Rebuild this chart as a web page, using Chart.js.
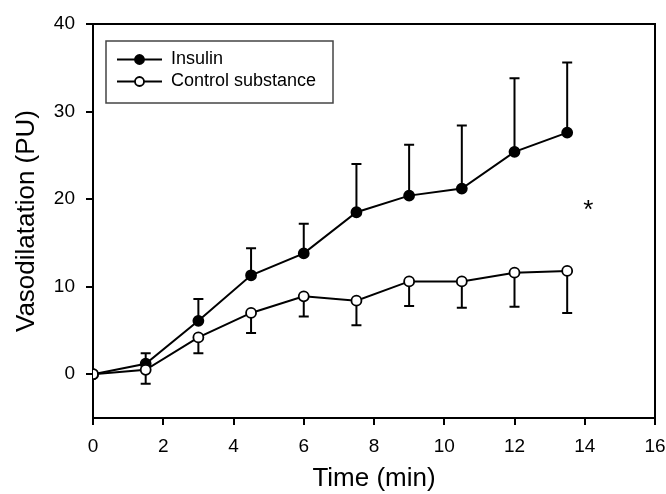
<!DOCTYPE html>
<html>
<head>
<meta charset="utf-8">
<script src="https://cdn.jsdelivr.net/npm/chart.js@4.4.0/dist/chart.umd.min.js"></script>
<style>
  body { margin: 0; background: #fff; }
  canvas { display: block; }
</style>
</head>
<body>
<canvas id="myChart" width="666" height="494"></canvas>
<script>
// time points (min)
const times = [0, 1.5, 3, 4.5, 6, 7.5, 9, 10.5, 12, 13.5];
// mean vasodilatation (PU)
const insulin = [0, 1.2, 6.1, 11.3, 13.8, 18.5, 20.4, 21.2, 25.4, 27.6];
const control = [0, 0.5, 4.2, 7.0, 8.9, 8.4, 10.6, 10.6, 11.6, 11.8];
// error bars: insulin drawn upward, control downward
const insulinErr = [0, 1.2, 2.5, 3.1, 3.4, 5.5, 5.8, 7.2, 8.4, 8.0];
const controlErr = [0, 1.6, 1.8, 2.3, 2.3, 2.8, 2.8, 3.0, 3.9, 4.8];
// axis ticks
const xTicks = [0, 2, 4, 6, 8, 10, 12, 14, 16];
const yTicks = [0, 10, 20, 30, 40];
// significance mark
const starX = 14.1;
const starY = 18.7;

const FONT = "'Liberation Sans', Arial, sans-serif";

function toPoints(ys) {
    return times.map((t, i) => ({ x: t, y: ys[i] }));
}

// vertical one-sided error bars with caps
const errorBars = {
    id: 'errorBars',
    beforeDatasetsDraw(chart) {
        const ctx = chart.ctx;
        const xs = chart.scales.x;
        const ys = chart.scales.y;
        const cap = 5;
        ctx.save();
        ctx.strokeStyle = '#000';
        ctx.lineWidth = 2;
        chart.data.datasets.forEach(ds => {
            ds.data.forEach((p, i) => {
                const e = ds.errors[i];
                if (!e) return;
                const px = xs.getPixelForValue(p.x);
                const y0 = ys.getPixelForValue(p.y);
                const y1 = ys.getPixelForValue(p.y + ds.errDir * e);
                ctx.beginPath();
                ctx.moveTo(px, y0);
                ctx.lineTo(px, y1);
                ctx.moveTo(px - cap, y1);
                ctx.lineTo(px + cap, y1);
                ctx.stroke();
            });
        });
        ctx.restore();
    }
};

// box around the plot, legend and asterisk
const decorations = {
    id: 'decorations',
    beforeDatasetsDraw(chart) {
        const ctx = chart.ctx;
        const a = chart.chartArea;
        ctx.save();
        ctx.strokeStyle = '#000';
        ctx.lineWidth = 2;
        ctx.beginPath();
        ctx.moveTo(a.left, a.top);
        ctx.lineTo(a.right, a.top);
        ctx.lineTo(a.right, a.bottom);
        ctx.stroke();
        ctx.restore();
    },
    afterDraw(chart) {
        const ctx = chart.ctx;
        const xs = chart.scales.x;
        const ys = chart.scales.y;
        ctx.save();

        // legend
        const lx = 106, ly = 41, lw = 227, lh = 62;
        ctx.strokeStyle = '#444';
        ctx.lineWidth = 1.5;
        ctx.strokeRect(lx, ly, lw, lh);
        const rows = [59.5, 81.5];
        [0, 1].forEach((di, r) => {
            const ds = chart.data.datasets[di];
            const y = rows[r];
            ctx.strokeStyle = '#000';
            ctx.lineWidth = 2;
            ctx.beginPath();
            ctx.moveTo(117, y);
            ctx.lineTo(162, y);
            ctx.stroke();
            ctx.beginPath();
            ctx.arc(139.5, y, 4.5, 0, Math.PI * 2);
            ctx.fillStyle = ds.pointBackgroundColor;
            ctx.fill();
            ctx.lineWidth = 1.8;
            ctx.stroke();
            ctx.fillStyle = '#000';
            ctx.font = '18px ' + FONT;
            ctx.textAlign = 'left';
            ctx.textBaseline = 'middle';
            ctx.fillText(ds.label, 171, y);
        });

        // asterisk
        ctx.fillStyle = '#000';
        ctx.font = '26px ' + FONT;
        ctx.textAlign = 'center';
        ctx.textBaseline = 'middle';
        ctx.fillText('*', xs.getPixelForValue(starX), ys.getPixelForValue(starY));
        ctx.restore();
    }
};

const data = {
    datasets: [{
        label: 'Insulin',
        data: toPoints(insulin),
        errors: insulinErr,
        errDir: 1,
        order: 2,
        showLine: true,
        borderColor: '#000',
        borderWidth: 2,
        pointRadius: 5,
        pointBorderWidth: 1.8,
        pointBorderColor: '#000',
        pointBackgroundColor: '#000'
    }, {
        label: 'Control substance',
        data: toPoints(control),
        errors: controlErr,
        errDir: -1,
        order: 1,
        showLine: true,
        borderColor: '#000',
        borderWidth: 2,
        pointRadius: 5,
        pointBorderWidth: 1.8,
        pointBorderColor: '#000',
        pointBackgroundColor: '#fff'
    }]
};

const config = {
    type: 'scatter',
    data: data,
    options: {
        responsive: false,
        animation: false,
        layout: {
            padding: { left: 0, top: 24, right: 11, bottom: 0 }
        },
        plugins: {
            legend: { display: false },
            tooltip: { enabled: false }
        },
        scales: {
            x: {
                type: 'linear',
                min: 0,
                max: 16,
                afterBuildTicks: s => { s.ticks = xTicks.map(v => ({ value: v })); },
                afterFit: s => {
                    s.height = 76;
                    s.paddingLeft = 0;
                    s.paddingRight = 0;
                },
                border: { color: '#000', width: 2 },
                grid: { drawOnChartArea: false, drawTicks: true, tickLength: 7, color: '#000', lineWidth: 2 },
                ticks: {
                    color: '#000',
                    padding: 10,
                    maxRotation: 0,
                    font: { family: FONT, size: 19 }
                },
                title: {
                    display: true,
                    text: 'Time (min)',
                    color: '#000',
                    font: { family: FONT, size: 26, lineHeight: 1 },
                    padding: { top: 0, bottom: 2 }
                }
            },
            y: {
                type: 'linear',
                min: -5,
                max: 40,
                afterBuildTicks: s => { s.ticks = yTicks.map(v => ({ value: v })); },
                afterFit: s => {
                    s.width = 93;
                    s.paddingTop = 0;
                    s.paddingBottom = 0;
                },
                border: { color: '#000', width: 2 },
                grid: { drawOnChartArea: false, drawTicks: true, tickLength: 7, color: '#000', lineWidth: 2 },
                ticks: {
                    color: '#000',
                    padding: 11,
                    font: { family: FONT, size: 19 }
                },
                title: {
                    display: true,
                    text: 'Vasodilatation (PU)',
                    color: '#000',
                    font: { family: FONT, size: 26, lineHeight: 1 },
                    padding: { top: 14, bottom: 0 }
                }
            }
        }
    },
    plugins: [errorBars, decorations]
};

const myChart = new Chart(document.getElementById('myChart'), config);
</script>
</body>
</html>
